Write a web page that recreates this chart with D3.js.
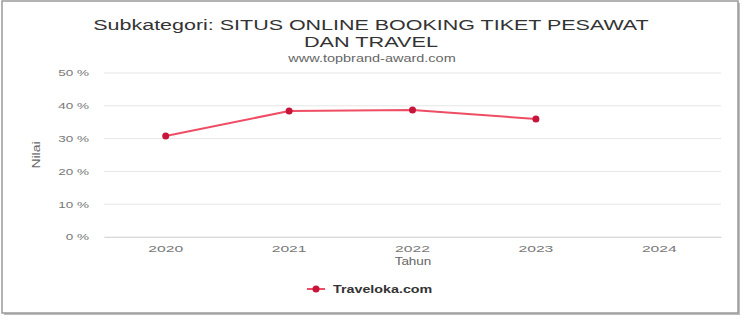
<!DOCTYPE html>
<html>
<head>
<meta charset="utf-8">
<script src="https://cdn.jsdelivr.net/npm/d3@7"></script>
<style>
  body { margin: 0; background: #fff; }
  svg { display: block; font-family: "Liberation Sans", Arial, sans-serif; }
</style>
</head>
<body>
<svg width="744" height="320"></svg>
<script>
// data
var years = ["2020", "2021", "2022", "2023", "2024"];
var seriesName = "Traveloka.com";
var values = [30.8, 38.4, 38.7, 36.0, null];
var yTicks = [0, 10, 20, 30, 40, 50];

var svg = d3.select("svg");

// the source picture is stretched sideways, so text gets a horizontal scale
function wideText(x, y, sx, txt, size, color, anchor) {
	return svg.append("text")
		.attr("transform", "translate(" + x + "," + y + ") scale(" + sx + ",1)")
		.attr("text-anchor", anchor || "middle")
		.attr("font-size", size)
		.attr("fill", color)
		.text(txt);
}

// screenshot frame with shadow
svg.append("rect")
	.attr("x", 4).attr("y", 3).attr("width", 736).attr("height", 312)
	.attr("fill", "#bdbdbd");
svg.append("rect")
	.attr("x", 2).attr("y", 1).attr("width", 736).attr("height", 312)
	.attr("fill", "#fff").attr("stroke", "#9a9a9a").attr("stroke-width", 1.5);

var xScale = d3.scaleBand().domain(years).range([104, 721]),
	yScale = d3.scaleLinear().domain([0, 50]).range([237, 73]);

// gridlines
svg.append("g")
	.selectAll("line")
	.data(yTicks)
	.enter().append("line")
	.attr("x1", 104).attr("x2", 721)
	.attr("y1", d => yScale(d)).attr("y2", d => yScale(d))
	.attr("stroke", "#e6e6e6").attr("stroke-width", 1);

// y axis labels
svg.append("g")
	.attr("transform", "translate(89,0)")
	.call(d3.axisLeft(yScale).tickValues(yTicks).tickFormat(d => d + " %").tickSize(0).tickPadding(0))
	.call(g => g.select(".domain").remove())
	.selectAll("text")
	.attr("fill", "#777").attr("font-size", 9)
	.attr("transform", "scale(1.5,1)");

// x axis
var xa = svg.append("g")
	.attr("transform", "translate(0,237)")
	.call(d3.axisBottom(xScale).tickSize(0).tickPadding(8));
xa.select(".domain").attr("stroke", "#d8d8d8");
xa.selectAll("text").attr("fill", "#777").attr("font-size", 9.5)
	.attr("transform", "scale(1.65,1)");

// axis titles
wideText(413, 265, 1.35, "Tahun", 10, "#666");
svg.append("text")
	.attr("transform", "translate(40,155) rotate(-90) scale(1.4,1)")
	.attr("text-anchor", "middle").attr("font-size", 10).attr("fill", "#666")
	.text("Nilai");

// title and subtitle
wideText(371, 30, 1.385, "Subkategori: SITUS ONLINE BOOKING TIKET PESAWAT", 15.5, "#333");
wideText(371, 47, 1.4, "DAN TRAVEL", 15.5, "#333");
wideText(372, 62, 1.45, "www.topbrand-award.com", 10, "#666");

// line and points
var pts = values.map((v, i) => ({ year: years[i], value: v })).filter(d => d.value != null);
var line = d3.line()
	.x(d => xScale(d.year) + xScale.bandwidth() / 2)
	.y(d => yScale(d.value));

svg.append("path")
	.datum(pts)
	.attr("d", line)
	.attr("fill", "none")
	.attr("stroke", "#ee4d64")
	.attr("stroke-width", 2);

svg.selectAll(".pt")
	.data(pts)
	.enter().append("circle")
	.attr("class", "pt")
	.attr("cx", d => xScale(d.year) + xScale.bandwidth() / 2)
	.attr("cy", d => yScale(d.value))
	.attr("r", 3.5)
	.attr("fill", "#c8143a");

// legend
svg.append("line")
	.attr("x1", 307).attr("x2", 325).attr("y1", 289).attr("y2", 289)
	.attr("stroke", "#ee4d64").attr("stroke-width", 2);
svg.append("circle")
	.attr("cx", 316).attr("cy", 289).attr("r", 3.5).attr("fill", "#c8143a");
wideText(333, 293, 1.3, seriesName, 11, "#333", "start").attr("font-weight", "bold");
</script>
</body>
</html>
